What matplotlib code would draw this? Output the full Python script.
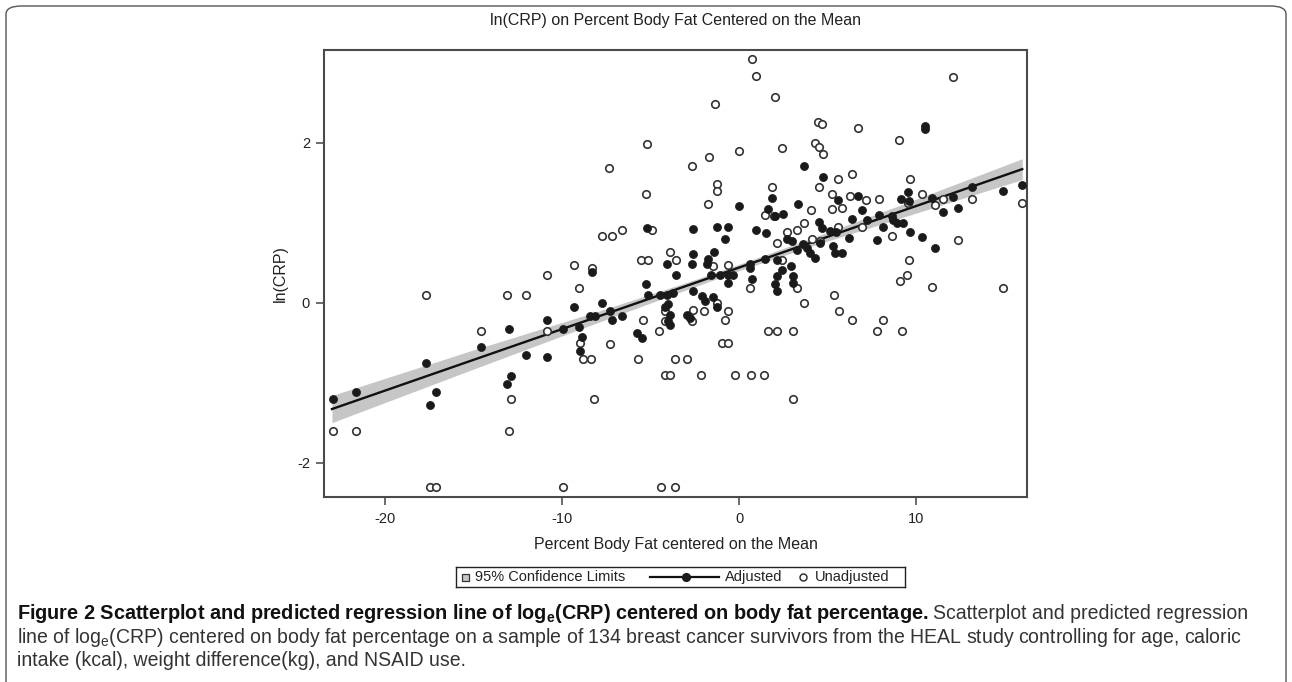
import matplotlib
matplotlib.use("Agg")
import matplotlib.pyplot as plt
from matplotlib.transforms import IdentityTransform
from matplotlib.patches import FancyBboxPatch, Rectangle
from matplotlib.lines import Line2D

plt.rcParams['font.family'] = ['Liberation Sans', 'DejaVu Sans']
plt.rcParams['axes.unicode_minus'] = False

# ---- data ----
adj_x = [3.67, 4.75, 10.49, 10.49, 1.88, 0.0, 3.33, 1.64, 2.03, 2.47, 5.57,
         6.74, 9.57, 9.15, 9.62, 10.88, 11.54, 6.93, 7.93, 8.63, 8.72, 6.37,
         7.21, 12.07, 12.39, 13.16, 14.93, 15.97, -5.21, -2.58, -1.26, -0.62,
         -0.77, 0.98, 1.51, 4.52, 5.14, 5.5, 2.69, 3.0, 4.67, 8.16, 8.91, 9.29,
         9.66, 6.23, 7.78, 10.34, 11.07, 3.63, 3.82, 4.01, 4.29, 3.26, 4.58,
         5.33, 5.42, 5.8, -2.62, -2.67, -1.75, -4.08, -3.58, -8.29, -1.4,
         -1.83, -1.6, -1.07, -0.6, -0.32, -0.6, 0.62, 0.62, 0.75, 1.47, 2.17,
         2.41, 2.17, 2.03, 2.17, 2.92, 3.03, 3.07, -5.27, -5.12, -4.46, -4.08,
         -3.71, -2.58, -2.11, -1.92, -1.45, -1.26, -7.72, -7.29, -7.16, -6.63,
         -8.42, -8.14, -9.07, -8.85, -8.98, -4.18, -3.99, -3.9, -3.99, -3.9,
         -2.95, -2.77, -5.74, -5.5, -9.3, -10.86, -9.96, -14.59, -12.97,
         -12.03, -10.86, -12.88, -13.12, -17.7, -22.92, -21.66, -17.12, -17.44]
adj_y = [1.71, 1.57, 2.21, 2.17, 1.31, 1.21, 1.24, 1.17, 1.08, 1.11, 1.29,
         1.34, 1.38, 1.30, 1.27, 1.31, 1.13, 1.16, 1.10, 1.09, 1.04, 1.05,
         1.04, 1.32, 1.18, 1.45, 1.40, 1.47, 0.93, 0.92, 0.95, 0.95,
         0.80, 0.91, 0.87, 1.01, 0.90, 0.89, 0.80, 0.77, 0.93, 0.95, 1.0, 1.0,
         0.88, 0.81, 0.78, 0.82, 0.68, 0.74, 0.68, 0.62, 0.56, 0.66, 0.75,
         0.71, 0.62, 0.62, 0.61, 0.48, 0.55, 0.48, 0.34, 0.39, 0.64,
         0.48, 0.34, 0.34, 0.34, 0.35, 0.25, 0.48, 0.43, 0.29, 0.55, 0.54,
         0.41, 0.33, 0.23, 0.15, 0.46, 0.33, 0.25, 0.23, 0.10, 0.10, 0.10,
         0.12, 0.14, 0.08, 0.02, 0.07, -0.05, 0.0, -0.11, -0.22, -0.17,
         -0.17, -0.17, -0.30, -0.43, -0.61, -0.05, -0.02, -0.15, -0.23, -0.28,
         -0.15, -0.19, -0.38, -0.44, -0.06, -0.22, -0.33, -0.55, -0.33,
         -0.66, -0.68, -0.92, -1.02, -0.75, -1.21, -1.12, -1.12, -1.28]

unadj_x = [0.75, 0.96, 2.02, -1.34, 4.46, 4.71, 0.0, 2.45, -1.69, -2.64, 4.31,
           4.52, 4.75, -5.21, -7.36, -5.27, 12.07, 6.72, 9.06, -1.26, -1.22,
           1.88, 4.52, 5.25, 5.6, 6.4, 9.66, -1.78, 1.49, 1.98, 4.05, 5.25,
           6.27, 7.18, 7.93, 10.32, 9.57, 5.84, 11.07, 11.54, 13.16, 15.97,
           -4.93, -7.76, -7.16, -6.61, 3.69, 3.30, 2.69, 2.17, 4.11, 4.58,
           6.93, 5.61, 8.63, 12.39, -3.9, -3.58, -5.55, -5.12, -9.32, -8.29,
           -1.49, -0.6, 2.41, 9.62, -10.86, -9.07, -13.09, -12.03, 0.62, 3.26,
           9.51, 9.1, 10.88, 14.93, -17.7, 5.37, 3.68, -1.98, -1.26, -0.6,
           -0.79, -4.18, -4.18, -2.58, -2.67, -5.44, 5.67, 6.37, 8.12, -10.86,
           -14.59, -8.98, -7.27, -4.52, -0.94, -0.6, 1.64, 2.15, 3.03, 7.78,
           9.19, -8.83, -8.38, -5.7, -3.62, -2.95, -4.18, -3.9, -2.17, -0.23,
           0.66, 1.43, -12.88, -8.21, 3.03, -12.97, -22.92, -21.66, -17.46,
           -17.12, -9.94, -4.41, -3.62]
unadj_y = [3.05, 2.84, 2.57, 2.48, 2.26, 2.23, 1.90, 1.93, 1.82, 1.71, 2.0,
           1.95, 1.86, 1.99, 1.69, 1.36, 2.82, 2.18, 2.03, 1.49, 1.40,
           1.45, 1.45, 1.36, 1.55, 1.61, 1.55, 1.23, 1.10, 1.09, 1.16, 1.17,
           1.34, 1.28, 1.30, 1.36, 1.25, 1.19, 1.22, 1.30, 1.30, 1.25,
           0.91, 0.84, 0.84, 0.91, 1.0, 0.91, 0.88, 0.75, 0.80, 0.77,
           0.95, 0.95, 0.84, 0.79, 0.64, 0.54, 0.53, 0.53, 0.47, 0.43,
           0.46, 0.47, 0.54, 0.54, 0.34, 0.18, 0.10, 0.10, 0.18, 0.18,
           0.34, 0.27, 0.19, 0.18, 0.10, 0.10, 0.0, -0.10, 0.0, -0.11,
           -0.22, -0.11, -0.23, -0.09, -0.23, -0.22, -0.10, -0.22, -0.22, -0.35,
           -0.35, -0.51, -0.52, -0.36, -0.51, -0.51, -0.35, -0.35, -0.35, -0.36,
           -0.36, -0.70, -0.70, -0.70, -0.70, -0.70, -0.91, -0.91, -0.91, -0.91,
           -0.91, -0.91, -1.2, -1.2, -1.2, -1.61, -1.61, -1.61, -2.3,
           -2.3, -2.3, -2.3, -2.3]

fit_x = [-23.0, 16.0]
fit_y = [-1.33, 1.67]

ci_x = [-23.0, -15.0, -8.0, -3.0, 0.0, 4.0, 9.0, 16.0]
ci_lo = [-1.50, -0.83, -0.25, 0.16, 0.40, 0.70, 1.05, 1.54]
ci_hi = [-1.16, -0.59, -0.11, 0.25, 0.48, 0.80, 1.21, 1.80]

x_ticks = [-20, -10, 0, 10]
y_ticks = [-2, 0, 2]

W, H = 1292, 682
fig = plt.figure(figsize=(W / 100, H / 100), dpi=100, facecolor='white')

# outer rounded frame of the figure panel
frame = FancyBboxPatch((6 / W, -0.05), (W - 12) / W, 1.05 - 6 / H,
                       boxstyle='round,pad=0,rounding_size=0.012',
                       transform=fig.transFigure, facecolor='none',
                       edgecolor='#555555', linewidth=1.0)
fig.patches.append(frame)

ax = fig.add_axes([324 / W, 1 - 497 / H, (1027 - 324) / W, (497 - 50) / H])
ax.fill_between(ci_x, ci_lo, ci_hi, color='#c6c6c6', linewidth=0, zorder=1)
ax.plot(fit_x, fit_y, color='#111111', linewidth=1.7, zorder=2)
ax.plot(unadj_x, unadj_y, 'o', markersize=5.4, markerfacecolor='white',
        markeredgecolor='#333333', markeredgewidth=1.2, zorder=3)
ax.plot(adj_x, adj_y, 'o', markersize=5.8, markerfacecolor='#1a1a1a',
        markeredgecolor='#1a1a1a', markeredgewidth=0.5, zorder=4)

ax.set_xlim(-23.45, 16.27)
ax.set_ylim(-2.43, 3.16)
ax.set_xticks(x_ticks)
ax.set_yticks(y_ticks)
ax.tick_params(direction='out', length=6, width=1.1, color='#444444',
               labelsize=10.5, labelcolor='#222222')
ax.tick_params(axis='x', pad=5)
ax.tick_params(axis='y', pad=4)
for sp in ax.spines.values():
    sp.set_color('#4a4a4a')
    sp.set_linewidth(1.5)

ax.set_xlabel('Percent Body Fat centered on the Mean', fontsize=11.5, color='#222222')
ax.xaxis.set_label_coords(0.5, -0.107)
ax.xaxis.label.set_va('center')
ax.set_ylabel('ln(CRP)', fontsize=11.5, color='#222222')
ax.yaxis.set_label_coords(-0.0626, 0.5)
ax.yaxis.label.set_va('center')

fig.text(675 / W, 1 - 20 / H, 'ln(CRP) on Percent Body Fat Centered on the Mean',
         ha='center', va='center', fontsize=11.5, color='#222222')

# legend strip below the axis label
lax = fig.add_axes([456 / W, 1 - 587 / H, (905 - 456) / W, 20 / H])
lax.set_xlim(0, 449)
lax.set_ylim(0, 20)
lax.set_xticks([])
lax.set_yticks([])
for sp in lax.spines.values():
    sp.set_color('#222222')
    sp.set_linewidth(1.0)
lax.add_patch(Rectangle((5.5, 6.5), 7, 7, facecolor='#c6c6c6',
                        edgecolor='#333333', linewidth=0.9))
lax.text(19, 10, '95% Confidence Limits', va='center', fontsize=10.5, color='#222222')
lax.add_line(Line2D([194, 263], [10, 10], color='#111111', linewidth=1.6))
lax.plot([230], [10], 'o', markersize=5.6, color='#1a1a1a')
lax.text(269, 10, 'Adjusted', va='center', fontsize=10.5, color='#222222')
lax.plot([347], [10], 'o', markersize=5.0, markerfacecolor='white',
         markeredgecolor='#333333', markeredgewidth=1.1)
lax.text(359, 10, 'Unadjusted', va='center', fontsize=10.5, color='#222222')

# caption, fitted to the measured line widths
cap_family = ['Liberation Sans', 'DejaVu Sans']
plt.rcParams['mathtext.fontset'] = 'custom'
plt.rcParams['mathtext.rm'] = 'Liberation Sans'
px = IdentityTransform()
fig.canvas.draw()
renderer = fig.canvas.get_renderer()

line2 = ('line of log$_\\mathregular{e}$(CRP) centered on body fat percentage on a '
         'sample of 134 breast cancer survivors from the HEAL study controlling '
         'for age, caloric')
t2 = fig.text(17, 39, line2, transform=px, fontsize=12, family=cap_family,
              color='#333333', va='baseline')
fs = 12 * (1243 - 17) / t2.get_window_extent(renderer).width
t2.set_fontsize(fs)

bold = ('Figure 2 Scatterplot and predicted regression line of '
        'log$_\\mathregular{e}$(CRP) centered on body fat percentage.')
t1 = fig.text(17, 63, bold, transform=px, fontsize=12, family=cap_family,
              fontweight='bold', color='#111111', va='baseline')
t3 = fig.text(0, 63, 'Scatterplot and predicted regression', transform=px,
              fontsize=fs, family=cap_family, color='#333333', va='baseline')
gap = fs * 0.35
w3 = t3.get_window_extent(renderer).width
fsb = 12 * (1245 - w3 - gap - 17) / t1.get_window_extent(renderer).width
t1.set_fontsize(fsb)
t3.set_x(t1.get_window_extent(renderer).x1 + gap)
fig.text(17, 16, 'intake (kcal), weight difference(kg), and NSAID use.',
         transform=px, fontsize=fs, family=cap_family, color='#333333',
         va='baseline')

fig.savefig('out.png', dpi=100, facecolor='white')
